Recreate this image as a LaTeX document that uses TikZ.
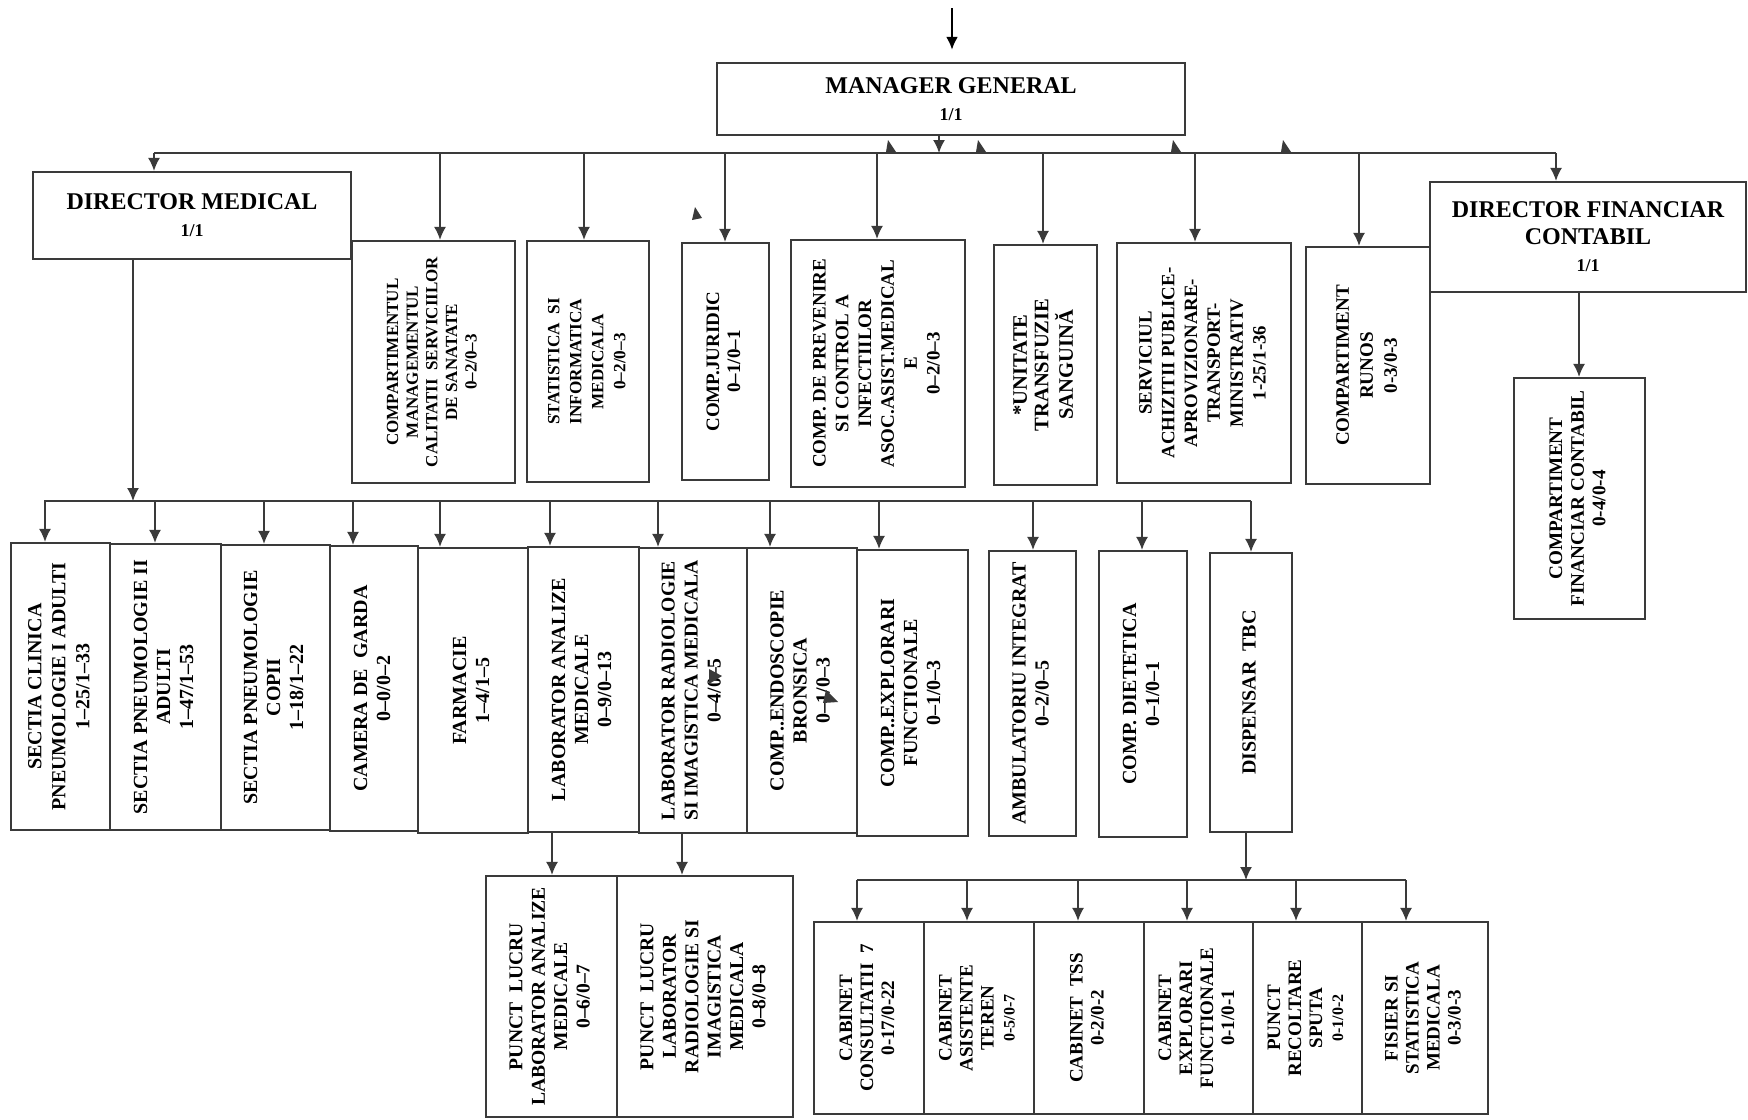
\documentclass[tikz,border=0pt]{standalone}
\usepackage{fontspec}
\setmainfont{Liberation Serif}
\usetikzlibrary{arrows.meta}
\definecolor{ink}{HTML}{3A3A3A}
\newcommand{\vtext}[3]{\rotatebox{90}{\fontsize{#1}{#2}\selectfont\begin{tabular}{@{}c@{}}#3\end{tabular}}}
\begin{document}
\begin{tikzpicture}[x=0.5pt,y=-0.5pt,> = {Latex[length=6.5pt,width=6pt]},
		box/.style={draw=ink,line width=1.1pt,fill=white,inner sep=0pt,font=\bfseries},
		sz/.style 2 args={minimum width=#1*0.5pt,minimum height=#2*0.5pt},
		link/.style={draw=ink,line width=0.8pt},
		big/.style={font=\bfseries\fontsize{12}{13.5}\selectfont,align=center}]
		\useasboundingbox (0,0) rectangle (1748,1119);
		\node[box,big,sz={468}{72}] (mgr) at (951,99) {MANAGER GENERAL\\{\fontsize{9}{10}\selectfont 1/1}};
		\node[box,big,sz={318}{87}] (dm) at (192,215.5) {DIRECTOR MEDICAL\\{\fontsize{9}{10}\selectfont 1/1}};
		\node[box,sz={163}{242}] (cms) at (433.5,362) {\vtext{8.5}{9.8}{COMPARTIMENTUL\\MANAGEMENTUL\\CALITATII\ \ SERVICIILOR\\DE SANATATE\\0–2/0–3}};
		\node[box,sz={122}{241}] (stat) at (588,361.5) {\vtext{8.6}{11}{STATISTICA\ \ SI\\INFORMATICA\\MEDICALA\\0–2/0–3}};
		\node[box,sz={87}{237}] (jur) at (725.5,361.5) {\vtext{9.5}{10.5}{COMP.JURIDIC\\0–1/0–1}};
		\node[box,sz={174}{247}] (prev) at (878,363.5) {\vtext{9.5}{11.4}{COMP. DE PREVENIRE\\SI CONTROL A\\INFECTIILOR\\ASOC.ASIST.MEDICAL\\E\\0–2/0–3}};
		\node[box,sz={103}{240}] (unit) at (1045.5,365) {\vtext{10.3}{10.8}{*UNITATE\\TRANSFUZIE\\SANGUINĂ}};
		\node[box,sz={174}{240}] (serv) at (1204,363) {\vtext{9.4}{11.4}{SERVICIUL\\ACHIZITII PUBLICE-\\APROVIZIONARE-\\TRANSPORT-\\MINISTRATIV\\1-25/1-36}};
		\node[box,sz={124}{237}] (runos) at (1368,365.5) {\vtext{9.5}{12}{COMPARTIMENT\\RUNOS\\0-3/0-3}};
		\node[box,big,sz={316}{110}] (dfc) at (1588,237) {DIRECTOR FINANCIAR\\CONTABIL\\{\fontsize{9}{10}\selectfont 1/1}};
		\node[box,sz={131}{241}] (cfc) at (1579.5,498.5) {\vtext{9.6}{10.8}{COMPARTIMENT\\FINANCIAR CONTABIL\\0-4/0-4}};
		\node[box,sz={99}{287}] (sc1) at (60.5,686.5) {\vtext{10}{12}{SECTIA CLINICA\\PNEUMOLOGIE I ADULTI\\1–25/1–33}};
		\node[box,sz={111}{286}] (sp2) at (165.5,687) {\vtext{10}{11.5}{SECTIA PNEUMOLOGIE II\\ADULTI\\1–47/1–53}};
		\node[box,sz={109}{285}] (spc) at (275.5,687.5) {\vtext{10}{11.5}{SECTIA PNEUMOLOGIE\\COPII\\1–18/1–22}};
		\node[box,sz={88}{285}] (cg) at (374,688.5) {\vtext{10}{11.5}{CAMERA DE\ \ GARDA\\0–0/0–2}};
		\node[box,sz={110}{285}] (farm) at (473,690.5) {\vtext{10}{11.5}{FARMACIE\\1–4/1–5}};
		\node[box,sz={111}{285}] (lab) at (583.5,689.5) {\vtext{10}{11.5}{LABORATOR ANALIZE\\MEDICALE\\0–9/0–13}};
		\node[box,sz={108}{285}] (rad) at (693,690.5) {\vtext{9.8}{11.5}{LABORATOR RADIOLOGIE\\SI IMAGISTICA MEDICALA\\0–4/0–5}};
		\node[box,sz={110}{285}] (endo) at (802,690.5) {\vtext{10}{11.5}{COMP..ENDOSCOPIE\\BRONSICA\\0–1/0–3}};
		\node[box,sz={111}{286}] (expl) at (912.5,693) {\vtext{10}{11.5}{COMP..EXPLORARI\\FUNCTIONALE\\0–1/0–3}};
		\node[box,sz={87}{285}] (amb) at (1032.5,693.5) {\vtext{10}{11.5}{AMBULATORIU INTEGRAT\\0–2/0–5}};
		\node[box,sz={88}{286}] (diet) at (1143,694) {\vtext{10}{11.5}{COMP. DIETETICA\\0–1/0–1}};
		\node[box,sz={82}{279}] (disp) at (1251,692.5) {\vtext{10}{11.5}{DISPENSAR\ \ TBC}};
		\node[box,sz={131}{241}] (pla) at (551.5,996.5) {\vtext{9.8}{11.2}{PUNCT\ \ LUCRU\\LABORATOR ANALIZE\\MEDICALE\\0–6/0–7}};
		\node[box,sz={176}{241}] (plr) at (705,996.5) {\vtext{9.8}{11.2}{PUNCT\ \ LUCRU\\LABORATOR\\RADIOLOGIE SI\\IMAGISTICA\\MEDICALA\\0–8/0–8}};
		\node[box,sz={110}{192}] (c1) at (869,1018) {\vtext{9.5}{10.5}{CABINET\\CONSULTATII\ \ 7\\0-17/0-22}};
		\node[box,sz={110}{192}] (c2) at (979,1018) {\vtext{9.5}{10.5}{CABINET\\ASISTENTE\\TEREN\\{\fontsize{8}{9}\selectfont 0-5/0-7}}};
		\node[box,sz={110}{192}] (c3) at (1089,1018) {\vtext{9.5}{10.5}{CABINET\ \ TSS\\0-2/0-2}};
		\node[box,sz={109}{192}] (c4) at (1198.5,1018) {\vtext{9.5}{10.5}{CABINET\\EXPLORARI\\FUNCTIONALE\\0-1/0-1}};
		\node[box,sz={109}{192}] (c5) at (1307.5,1018) {\vtext{9.5}{10.5}{PUNCT\\RECOLTARE\\SPUTA\\{\fontsize{8}{9}\selectfont 0-1/0-2}}};
		\node[box,sz={126}{192}] (c6) at (1425,1018) {\vtext{9.5}{10.5}{FISIER SI\\STATISTICA\\MEDICALA\\0-3/0-3}};
		\coordinate (inT) at (952,8);
		\coordinate (busT) at (939,153);
		\coordinate (busM) at (133,501);
		\coordinate (busD) at (1246,880);
		\draw[->,line width=1.4pt,shorten >=6pt] (inT) -- (inT |- mgr.north);
		\draw[link,->] (mgr.south -| busT) -- (busT);
		\draw[link] (busT -| 154,0) -- (busT -| 1556,0);
		\foreach \n/\x in {dm/154,cms/440,stat/584,jur/725,prev/877,unit/1043,serv/1195,runos/1359,dfc/1556}
			\draw[link,->] (busT -| \x,0) -- (\n.north -| \x,0);
		\draw[link,->] (dm.south -| busM) -- (busM);
		\draw[link] (busM -| 44,0) -- (busM -| 1251,0);
		\foreach \n/\x in {sc1/45,sp2/155,spc/264,cg/353,farm/440,lab/550,rad/658,endo/770,expl/879,amb/1033,diet/1142,disp/1251}
			\draw[link,->] (busM -| \x,0) -- (\n.north -| \x,0);
		\draw[link,->] (lab.south -| 552,0) -- (pla.north -| 552,0);
		\draw[link,->] (rad.south -| 682,0) -- (plr.north -| 682,0);
		\draw[link,->] (dfc.south -| 1579,0) -- (cfc.north -| 1579,0);
		\draw[link,->] (disp.south -| busD) -- (busD);
		\draw[link] (busD -| 857,0) -- (busD -| 1406,0);
		\foreach \n/\x in {c1/857,c2/967,c3/1078,c4/1187,c5/1296,c6/1406}
			\draw[link,->] (busD -| \x,0) -- (\n.north -| \x,0);
		\foreach \x in {891,981,1176,1286}
			\fill[ink] (\x-5,152) -- (\x+5,152) -- (\x-3,140) -- cycle;
		\fill[ink] (692,220) -- (702,218) -- (695,207) -- cycle;
		\fill[ink] (709,669) -- (722,676) -- (709,684) -- cycle;
		\fill[ink] (826,690) -- (838,702) -- (823,703) -- cycle;
	\end{tikzpicture}
\end{document}
